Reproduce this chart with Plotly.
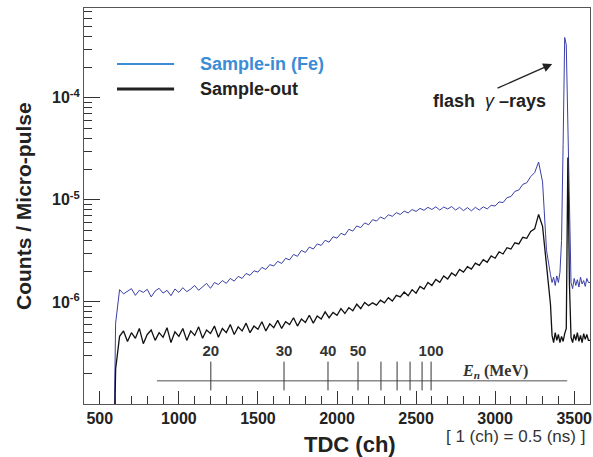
import plotly.graph_objects as go

# ------------------------------------------------------------
# DATA (counts per micro-pulse, units of 1e-6)
# ------------------------------------------------------------

canais = list(range(400, 3350, 25)) + list(range(3350, 3601, 10))

amostra_in = [
    # 400 - 575 (no counts)
    0.001, 0.001, 0.001, 0.001, 0.001, 0.001, 0.001, 0.001,
    # 600
    0.62,
    # 625 - 1000
    1.32, 1.20, 1.27, 1.35, 1.16, 1.30, 1.24, 1.33, 1.12, 1.28,
    1.36, 1.22, 1.30, 1.15, 1.34, 1.24,
    # 1025 - 1500
    1.38, 1.26, 1.34, 1.45, 1.30, 1.42, 1.52, 1.36, 1.55, 1.48,
    1.62, 1.52, 1.70, 1.60, 1.78, 1.70, 1.90, 1.82, 2.02, 1.96,
    # 1525 - 2000
    2.18, 2.08, 2.32, 2.25, 2.50, 2.38, 2.68, 2.58, 2.92, 2.80,
    3.20, 3.05, 3.45, 3.30, 3.70, 3.58, 4.02, 3.85, 4.35, 4.22,
    # 2025 - 2500
    4.70, 4.52, 5.15, 4.95, 5.55, 5.35, 5.95, 5.70, 6.40, 6.20,
    6.80, 6.50, 7.15, 6.90, 7.50, 7.20, 7.75, 7.45, 8.05, 7.70,
    # 2525 - 3000
    8.25, 7.90, 8.45, 8.05, 8.55, 7.95, 8.50, 8.15, 8.60, 7.95,
    8.45, 7.85, 8.40, 7.80, 8.45, 7.95, 8.55, 8.15, 8.85, 8.70,
    # 3025 - 3325
    9.55, 9.40, 10.5, 10.8, 12.1, 12.5, 14.2, 14.7, 16.9, 18.5,
    23.5, 15.0, 3.20,
    # 3350 - 3600 (10 ch bins)
    1.85, 1.55, 1.75, 1.45, 1.80, 1.55, 1.95, 4.0, 35.0, 390.0,
    330.0, 60.0, 6.0, 1.55, 1.35, 1.70, 1.45, 1.65, 1.40, 1.75,
    1.50, 1.62, 1.42, 1.70, 1.55, 1.55,
]

amostra_out = [
    # 400 - 575 (no counts)
    0.001, 0.001, 0.001, 0.001, 0.001, 0.001, 0.001, 0.001,
    # 600
    0.22,
    # 625 - 1000
    0.46, 0.52, 0.41, 0.50, 0.44, 0.55, 0.39, 0.48, 0.53, 0.42,
    0.50, 0.45, 0.56, 0.40, 0.51, 0.46,
    # 1025 - 1500
    0.55, 0.42, 0.52, 0.47, 0.57, 0.44, 0.53, 0.49, 0.58, 0.45,
    0.55, 0.50, 0.60, 0.48, 0.57, 0.52, 0.62, 0.50, 0.58, 0.54,
    # 1525 - 2000
    0.64, 0.52, 0.61, 0.56, 0.66, 0.55, 0.64, 0.60, 0.70, 0.58,
    0.68, 0.63, 0.74, 0.62, 0.73, 0.68, 0.80, 0.70, 0.79, 0.74,
    # 2025 - 2500
    0.86, 0.77, 0.88, 0.82, 0.95, 0.86, 0.99, 0.92, 0.98, 0.93,
    1.04, 0.98, 1.10, 1.02, 1.16, 1.12, 1.25, 1.15, 1.32, 1.22,
    # 2525 - 3000
    1.42, 1.34, 1.55, 1.45, 1.66, 1.56, 1.80, 1.68, 1.92, 1.80,
    2.08, 1.96, 2.22, 2.10, 2.40, 2.28, 2.60, 2.45, 2.82, 2.68,
    # 3025 - 3325
    3.10, 2.95, 3.40, 3.30, 3.80, 3.70, 4.30, 4.20, 4.90, 5.20,
    7.20, 5.50, 2.40,
    # 3350 - 3600 (10 ch bins)
    0.95, 0.47, 0.40, 0.50, 0.42, 0.48, 0.40, 0.46, 0.41, 0.49,
    0.55, 26.0, 1.5, 0.45, 0.40, 0.48, 0.42, 0.50, 0.41, 0.47,
    0.40, 0.49, 0.43, 0.48, 0.42, 0.42,
]

# energy scale (MeV) -> TDC channel
energias = [20, 30, 40, 50, 60, 70, 80, 90, 100]
canais_energia = [1202, 1665, 1943, 2133, 2278, 2380, 2462, 2538, 2595]
energias_com_rotulo = [20, 30, 40, 50, 100]

ticks_x = [500, 1000, 1500, 2000, 2500, 3000, 3500]
ticks_y = [1e-6, 1e-5, 1e-4]
rotulos_y = ["10<sup>-6</sup>", "10<sup>-5</sup>", "10<sup>-4</sup>"]

y_in = [v * 1e-6 for v in amostra_in]
y_out = [v * 1e-6 for v in amostra_out]

azul_curva = "#3a3fa6"
azul_legenda = "#3b8cd6"
fonte = "Liberation Sans"

fig = go.Figure()

fig.add_trace(go.Scatter(
    x=canais, y=y_in, mode="lines",
    line=dict(color=azul_curva, width=1), showlegend=False
))
fig.add_trace(go.Scatter(
    x=canais, y=y_out, mode="lines",
    line=dict(color="#111111", width=1.3), showlegend=False
))

# ------------------------------------------------------------
# ENERGY SCALE
# ------------------------------------------------------------

y_eixo_e = 1.69e-7
fig.add_trace(go.Scatter(
    x=[861, 3456], y=[y_eixo_e, y_eixo_e], mode="lines",
    line=dict(color="#8a8a8a", width=1.3), showlegend=False
))

xs, ys = [], []
for c in canais_energia:
    xs += [c, c, None]
    ys += [1.36e-7, 2.6e-7, None]
fig.add_trace(go.Scatter(
    x=xs, y=ys, mode="lines",
    line=dict(color="#333333", width=1), showlegend=False
))

x_rot = [c for e, c in zip(energias, canais_energia) if e in energias_com_rotulo]
fig.add_trace(go.Scatter(
    x=x_rot, y=[3.2e-7] * len(x_rot), mode="text",
    text=[str(e) for e in energias_com_rotulo], textposition="middle center",
    textfont=dict(family=fonte, size=15, color="#333333", weight="bold"),
    showlegend=False
))

fig.add_annotation(
    x=3000, y=-6.68, xref="x", yref="y",
    text="<b><i>E</i></b><sub><b><i>n</i></b></sub><b> (MeV)</b>",
    showarrow=False,
    font=dict(family="Liberation Serif", size=16, color="#333333")
)

# ------------------------------------------------------------
# FLASH GAMMA ANNOTATION
# ------------------------------------------------------------

fig.add_annotation(
    x=3361, y=-3.668, ax=3006, ay=-3.912,
    xref="x", yref="y", axref="x", ayref="y",
    text="", showarrow=True, arrowhead=2, arrowsize=1.4,
    arrowwidth=1.3, arrowcolor="#222222"
)
fig.add_annotation(
    x=2962, y=-4.03, xref="x", yref="y",
    text="<b>flash  </b><i>γ</i><b> –rays</b>",
    showarrow=False,
    font=dict(family=fonte, size=18, color="#222222")
)

# ------------------------------------------------------------
# LEGEND (manual)
# ------------------------------------------------------------

fig.add_shape(type="line", xref="paper", yref="paper",
              x0=0.0652, x1=0.178, y0=0.8586, y1=0.8586,
              line=dict(color=azul_legenda, width=2))
fig.add_shape(type="line", xref="paper", yref="paper",
              x0=0.0652, x1=0.178, y0=0.7955, y1=0.7955,
              line=dict(color="#222222", width=3))
fig.add_annotation(
    x=0.2253, y=0.8586, xref="paper", yref="paper",
    xanchor="left", yanchor="middle", showarrow=False,
    text="<b>Sample-in (Fe)</b>",
    font=dict(family=fonte, size=18, color=azul_legenda)
)
fig.add_annotation(
    x=0.2253, y=0.7955, xref="paper", yref="paper",
    xanchor="left", yanchor="middle", showarrow=False,
    text="<b>Sample-out</b>",
    font=dict(family=fonte, size=18, color="#222222")
)

# ------------------------------------------------------------
# AXIS TITLES
# ------------------------------------------------------------

fig.add_annotation(
    x=-0.1206, y=0.5, xref="paper", yref="paper",
    xanchor="center", yanchor="middle",
    text="<b>Counts / Micro-pulse</b>", textangle=-90,
    showarrow=False, font=dict(family=fonte, size=21, color="#222222")
)
fig.add_annotation(
    x=0.526, y=-0.1035, xref="paper", yref="paper",
    xanchor="center", yanchor="middle",
    text="<b>TDC (ch)</b>", showarrow=False,
    font=dict(family=fonte, size=22, color="#222222")
)
fig.add_annotation(
    x=0.852, y=-0.0833, xref="paper", yref="paper",
    xanchor="center", yanchor="middle",
    text="[ 1 (ch) = 0.5 (ns) ]", showarrow=False,
    font=dict(family=fonte, size=17, color="#333333")
)

# ------------------------------------------------------------
# LAYOUT
# ------------------------------------------------------------

minor_y = [m * 10.0 ** e for e in (-7, -6, -5) for m in range(2, 10)]
minor_y += [m * 1e-4 for m in range(2, 8)]

fig.update_layout(
    width=593, height=457,
    margin=dict(l=84, r=3, t=8, b=53),
    paper_bgcolor="white",
    plot_bgcolor="white",
    font=dict(family=fonte, color="#222222"),
)

fig.update_xaxes(
    range=[400, 3600], automargin=False,
    tickvals=ticks_x,
    ticks="inside", ticklen=13, tickcolor="#333333",
    tickfont=dict(family=fonte, size=16, color="#222222", weight="bold"),
    minor=dict(dtick=100, ticks="inside", ticklen=8, tickcolor="#333333", showgrid=False),
    showgrid=False, zeroline=False,
    showline=True, mirror=True, linecolor="#555555", linewidth=1
)

fig.update_yaxes(
    type="log", automargin=False,
    range=[-7, -3.12],
    tickvals=ticks_y, ticktext=rotulos_y,
    ticks="inside", ticklen=16, tickcolor="#333333",
    tickfont=dict(family=fonte, size=16, color="#222222", weight="bold"),
    minor=dict(tickvals=minor_y, ticks="inside", ticklen=8, tickcolor="#333333", showgrid=False),
    showgrid=False, zeroline=False,
    showline=True, mirror=True, linecolor="#555555", linewidth=1
)

# remove a margem padrao do body para a figura ocupar a janela inteira
fig.write_html(
    "out.html",
    config={"displayModeBar": False},
    post_script="document.body.style.margin='0';"
)
